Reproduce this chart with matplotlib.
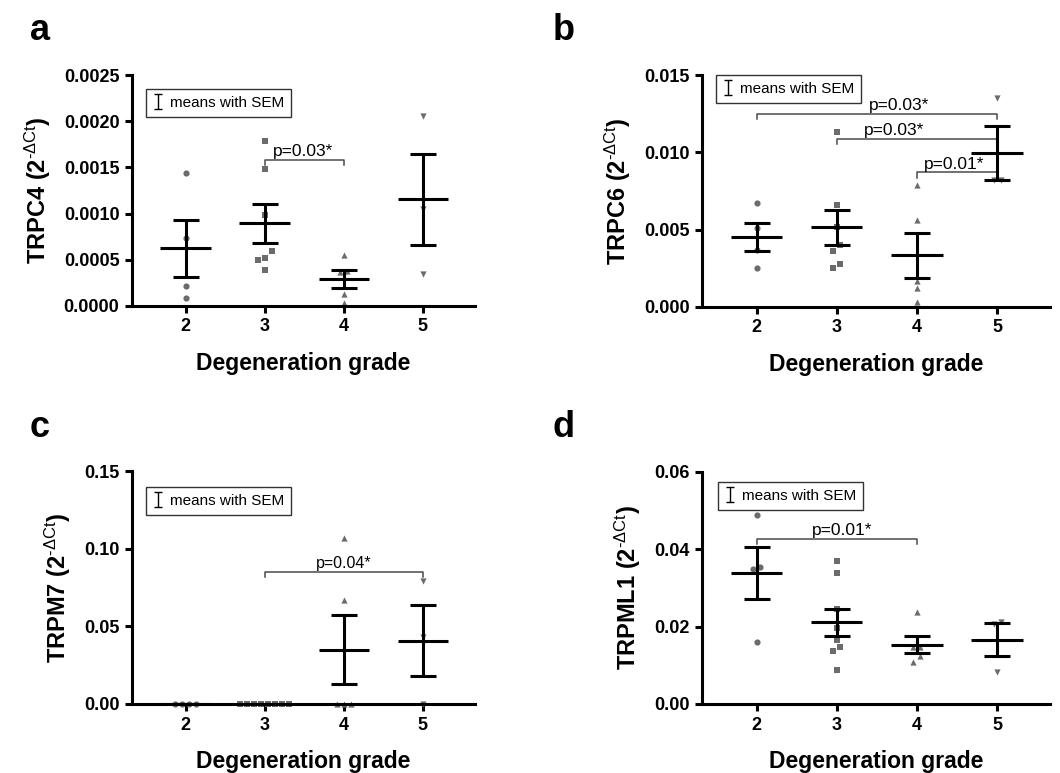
import numpy as np
import matplotlib
matplotlib.use('Agg')
import matplotlib.pyplot as plt
from matplotlib.ticker import FormatStrFormatter

plt.rcParams['font.family'] = ['Liberation Sans', 'DejaVu Sans']
plt.rcParams['mathtext.fontset'] = 'custom'
plt.rcParams['mathtext.rm'] = 'Liberation Sans'
plt.rcParams['mathtext.it'] = 'Liberation Sans:italic'
plt.rcParams['mathtext.bf'] = 'Liberation Sans:bold'

grades = [2, 3, 4, 5]
markers = ['o', 's', '^', 'v']

# values, one list per degeneration grade
trpc4 = [
    [0.00144, 0.00074, 0.00022, 0.00009],
    [0.00179, 0.00148, 0.00098, 0.00059, 0.00052, 0.00050, 0.00039],
    [0.00055, 0.00038, 0.00037, 0.00013, 0.00003],
    [0.00206, 0.00105, 0.00035],
]
trpc6 = [
    [0.0067, 0.0051, 0.0037, 0.0025],
    [0.0113, 0.0066, 0.0052, 0.0040, 0.0036, 0.0028, 0.0025],
    [0.0079, 0.0056, 0.0017, 0.0012, 0.0003],
    [0.0135, 0.0082, 0.0082],
]
trpm7 = [
    [0, 0, 0, 0],
    [0, 0, 0, 0, 0, 0, 0, 0],
    [0.107, 0.067, 0, 0, 0],
    [0.079, 0.043, 0],
]
trpml1 = [
    [0.049, 0.0355, 0.035, 0.016],
    [0.037, 0.034, 0.0245, 0.0196, 0.0166, 0.0147, 0.0136, 0.0087],
    [0.0237, 0.0147, 0.0147, 0.0125, 0.0109],
    [0.0211, 0.0207, 0.0082],
]

# (from grade, to grade, bracket height, label, label x)
brackets_a = [(3, 4, 0.00158, 'p=0.03*', 3.49)]
brackets_b = [(2, 5, 0.01246, 'p=0.03*', 3.78),
              (3, 5, 0.01087, 'p=0.03*', 3.72),
              (4, 5, 0.0087, 'p=0.01*', 4.47)]
brackets_c = [(3, 5, 0.0852, 'p=0.04*', 4.0)]
brackets_d = [(2, 4, 0.0427, 'p=0.01*', 3.07)]

W, H = 1060, 773
GRAY = '#6b6b6b'
SUP = r'$^{\text{-}\Delta\mathrm{Ct}}$'


def px_axes(left, right, top, bottom):
    return [left / W, 1 - bottom / H, (right - left) / W, (bottom - top) / H]


def swarm_x(ax, x, vals, d=7.0):
    # spread points that sit on (nearly) the same height, like a dot plot
    order = np.argsort(vals)
    pts = ax.transData.transform(np.column_stack([np.full(len(vals), x), vals]))
    xs = np.full(len(vals), float(x))
    rows, cur = [], [order[0]]
    for i in order[1:]:
        if abs(pts[i, 1] - pts[cur[-1], 1]) < d * 0.95:
            cur.append(i)
        else:
            rows.append(cur)
            cur = [i]
    rows.append(cur)
    for row in rows:
        n = len(row)
        for k, i in enumerate(row):
            px = pts[i, 0] + (k - (n - 1) / 2) * d
            xs[i] = ax.transData.inverted().transform((px, pts[i, 1]))[0]
    return xs


def draw_panel(ax, groups, ymax, step, fmt, ylabel, brackets, leg_xy, pfont=12.5):
    ax.set_xlim(1.32, 5.66)
    ax.set_ylim(0, ymax)
    for sp in ['top', 'right']:
        ax.spines[sp].set_visible(False)
    for sp in ['left', 'bottom']:
        ax.spines[sp].set_linewidth(2.2)
    ax.tick_params(width=2.2, length=5, labelsize=13, pad=4)
    ax.set_xticks(grades)
    ax.set_yticks(np.arange(0, ymax + step / 2, step))
    ax.yaxis.set_major_formatter(FormatStrFormatter(fmt))
    for lab in ax.get_xticklabels() + ax.get_yticklabels():
        lab.set_fontweight('bold')
    ax.set_xlabel('Degeneration grade', fontsize=16.5, fontweight='bold', labelpad=12)
    ax.set_ylabel(ylabel + ' (2' + SUP + ')', fontsize=17, fontweight='bold', labelpad=8)

    for g, m, vals in zip(grades, markers, groups):
        vals = np.array(vals, dtype=float)
        xs = swarm_x(ax, g, vals)
        ax.scatter(xs, vals, marker=m, s=20, color=GRAY, zorder=2, clip_on=False,
                   linewidths=0)
        mean = vals.mean()
        sem = vals.std(ddof=1) / np.sqrt(len(vals))
        ax.plot([g - 0.32, g + 0.32], [mean, mean], color='black', lw=2.2,
                zorder=3, solid_capstyle='butt')
        ax.errorbar([g], [mean], yerr=[sem], fmt='none', ecolor='black',
                    elinewidth=2.2, capsize=9.4, capthick=2.2, zorder=3)

    tick = 0.022 * ymax
    for x0, x1, y, txt, tx in brackets:
        ax.plot([x0, x0, x1, x1], [y - tick, y, y, y - tick], color='#4a4a4a',
                lw=1.1, zorder=1)
        ax.text(tx, y + 0.004 * ymax, txt, ha='center', va='bottom', fontsize=pfont)

    eb = ax.errorbar([np.nan], [np.nan], yerr=[np.nan], fmt='none', ecolor='black',
                     elinewidth=1, capsize=3, capthick=1)
    leg = ax.legend([eb], ['means with SEM'], loc='upper left', bbox_to_anchor=leg_xy,
                    borderaxespad=0, fontsize=11, handlelength=0.7, handletextpad=0.4,
                    fancybox=False, framealpha=1, edgecolor='#333333',
                    borderpad=0.45)
    leg.get_frame().set_linewidth(1.0)


fig = plt.figure(figsize=(W / 100, H / 100), dpi=100)
ax_a = fig.add_axes(px_axes(132, 475, 75, 306))
ax_b = fig.add_axes(px_axes(702, 1050, 75, 307))
ax_c = fig.add_axes(px_axes(132, 475, 471, 704))
ax_d = fig.add_axes(px_axes(702, 1050, 472, 704))

draw_panel(ax_a, trpc4, 0.0025, 0.0005, '%.4f', 'TRPC4', brackets_a, (0.041, 0.939))
draw_panel(ax_b, trpc6, 0.015, 0.005, '%.3f', 'TRPC6', brackets_b, (0.040, 1.0))
draw_panel(ax_c, trpm7, 0.15, 0.05, '%.2f', 'TRPM7', brackets_c, (0.041, 0.931),
           pfont=11.5)
draw_panel(ax_d, trpml1, 0.06, 0.02, '%.2f', 'TRPML1', brackets_d, (0.046, 0.957))

for letter, x, y in [('a', 30, 40), ('b', 553, 40), ('c', 30, 437), ('d', 553, 437)]:
    fig.text(x / W, 1 - y / H, letter, fontsize=26, fontweight='bold', va='baseline')

fig.savefig('out.png', dpi=100)
